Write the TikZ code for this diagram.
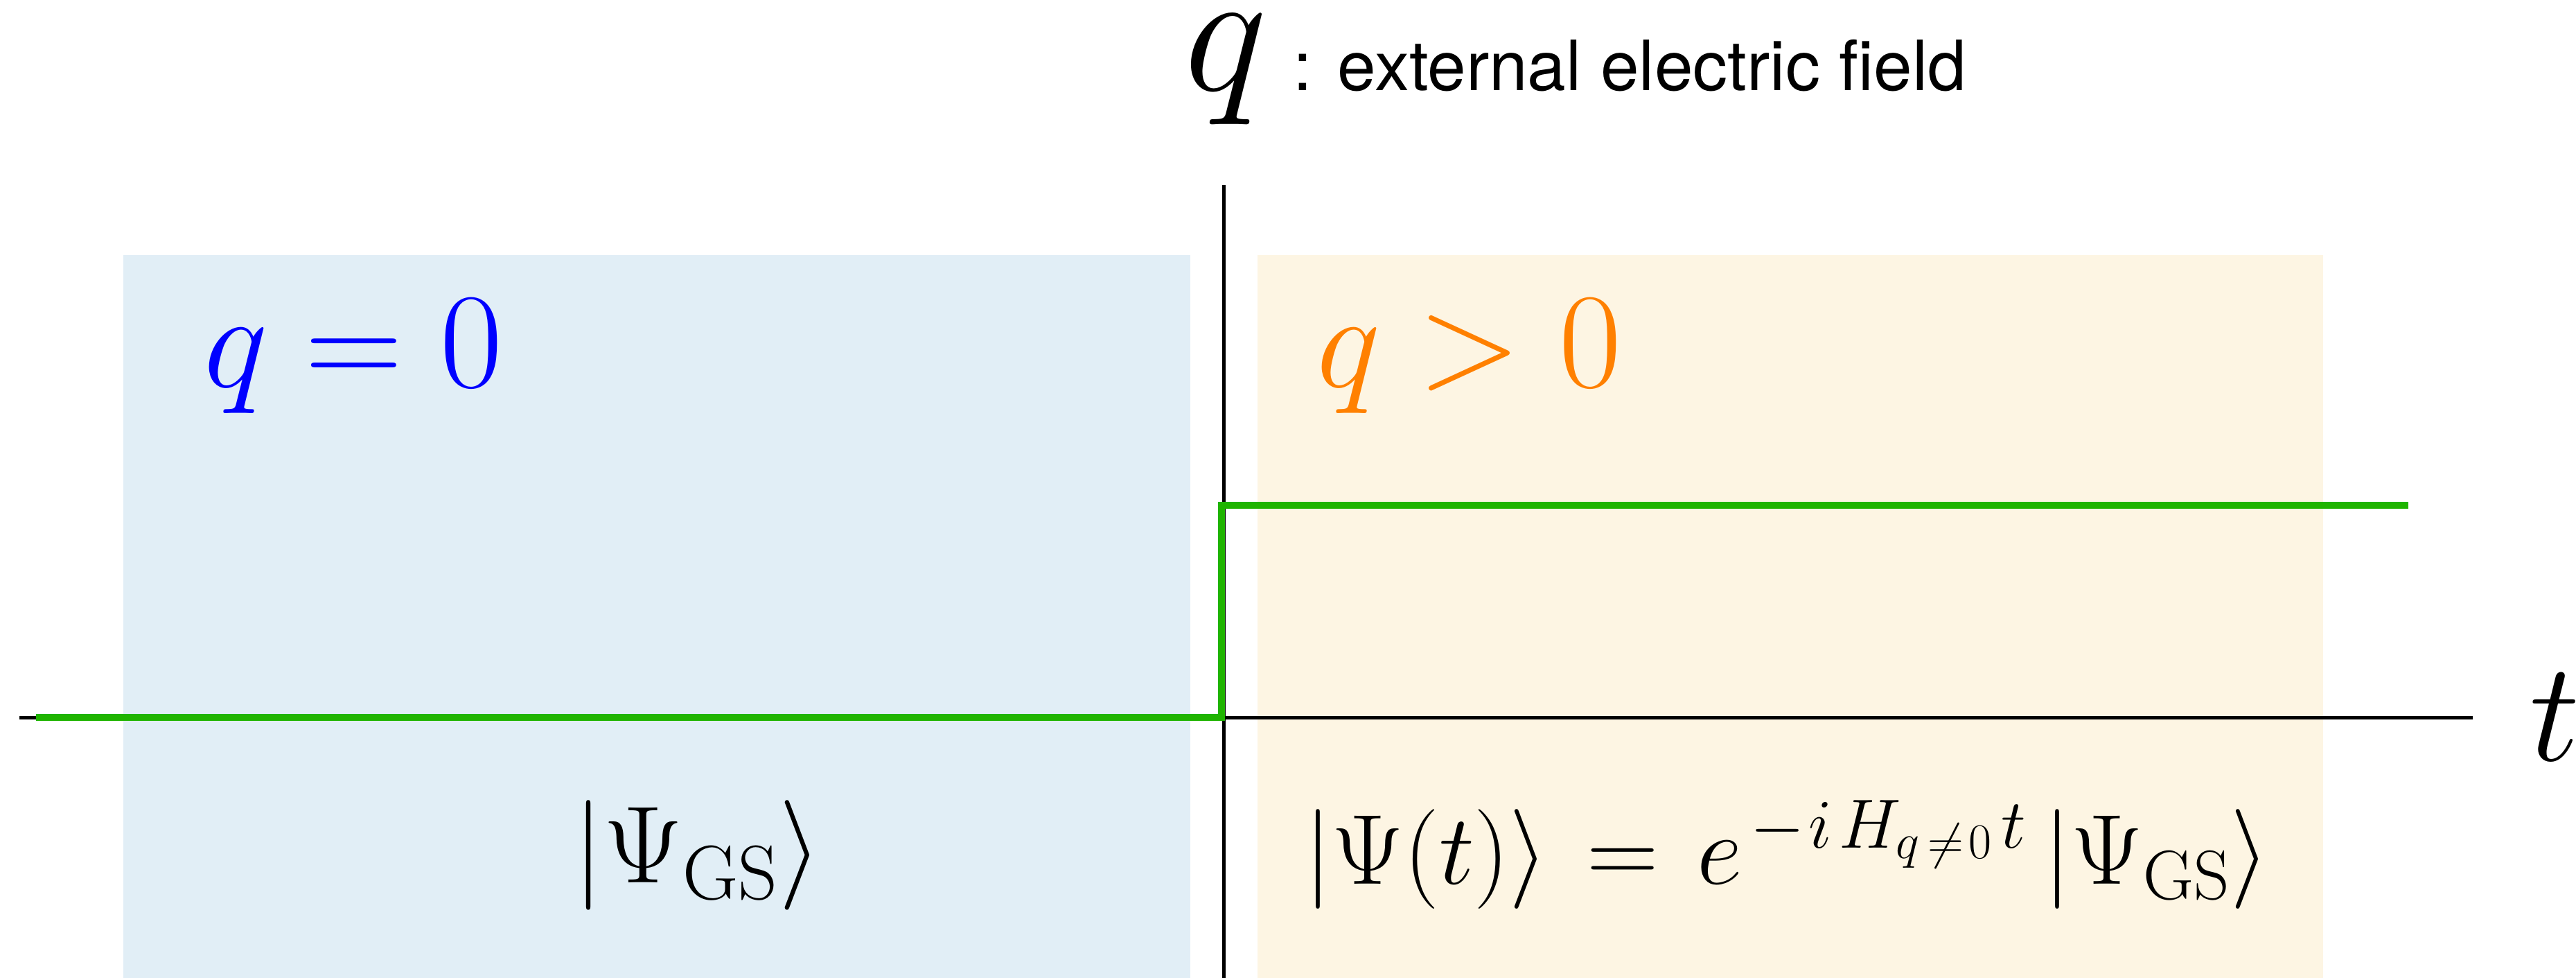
\RequirePackage{fix-cm}
\documentclass[tikz,border=0pt]{standalone}
\usepackage{fontspec}
\usepackage{xcolor}
\usepackage{amsmath}
\usepackage{tikz}
\usetikzlibrary{positioning}

\newfontfamily\helvfont{TeX Gyre Heros}
\definecolor{stepgreen}{HTML}{1FB400}
\definecolor{zeroblue}{HTML}{E1EEF6}
\definecolor{fieldorange}{HTML}{FDF5E3}
\definecolor{labelorange}{HTML}{FF8000}

\begin{document}
\begin{tikzpicture}[
    x=0.02cm, y=-0.02cm,
    every node/.style={inner sep=0pt, outer sep=0pt, anchor=base west},
    axis/.style={draw, line width=1.2pt},
    quench/.style={draw=stepgreen, line width=2.4pt},
    phase/.style={font=\fontsize{47}{50}\selectfont},
    statelabel/.style={font=\fontsize{#1}{#1}\selectfont}
]
\useasboundingbox (0,0) rectangle (1568,595);
% regions
\fill[zeroblue] (75,155) rectangle (724.5,595);
\fill[fieldorange] (765.5,155) rectangle (1414,595);
% axes
\coordinate (tstart) at (12,436.5);
\coordinate (tend) at (1505,436.5);
\coordinate (qtop) at (745,112.5);
\coordinate (qbot) at (745,595);
\draw[axis] (tstart) -- (tend);
\draw[axis] (qtop) -- (qbot);
% field switched on
\coordinate (before) at (22,436.5);
\coordinate (jump) at (743.7,436.5);
\coordinate (after) at (1466,307.5);
\draw[quench] (before) -- (jump) |- (after);

\node[font=\fontsize{61}{64}\selectfont] (qaxis) at (721,55) {$q$};
\node[font=\helvfont\fontsize{24}{28}\selectfont] (field) at (787,55) {: external electric field};
\node[font=\fontsize{49}{52}\selectfont] (tlabel) at (1540,462.7) {$t$};

\node[phase, text=blue] (qzero) at (124,235.4) {$q=0$};
\node[phase, text=labelorange] (qpos) at (801.5,235.4) {$q>0$};

\node[statelabel=38] (gs) at (349,537) {$\lvert\Psi_{\mathrm{GS}}\rangle$};
\node[statelabel=34.5] (evolved) at (794,538) {$\lvert\Psi(t)\rangle \mkern2mu=\mkern2mu e^{\mkern2mu-\mkern1mu i\mkern2mu H_{q\mkern3mu\neq\mkern2mu0}\mkern2mu t}\mkern3mu\lvert\Psi_{\mathrm{GS}}\rangle$};
\end{tikzpicture}
\end{document}
